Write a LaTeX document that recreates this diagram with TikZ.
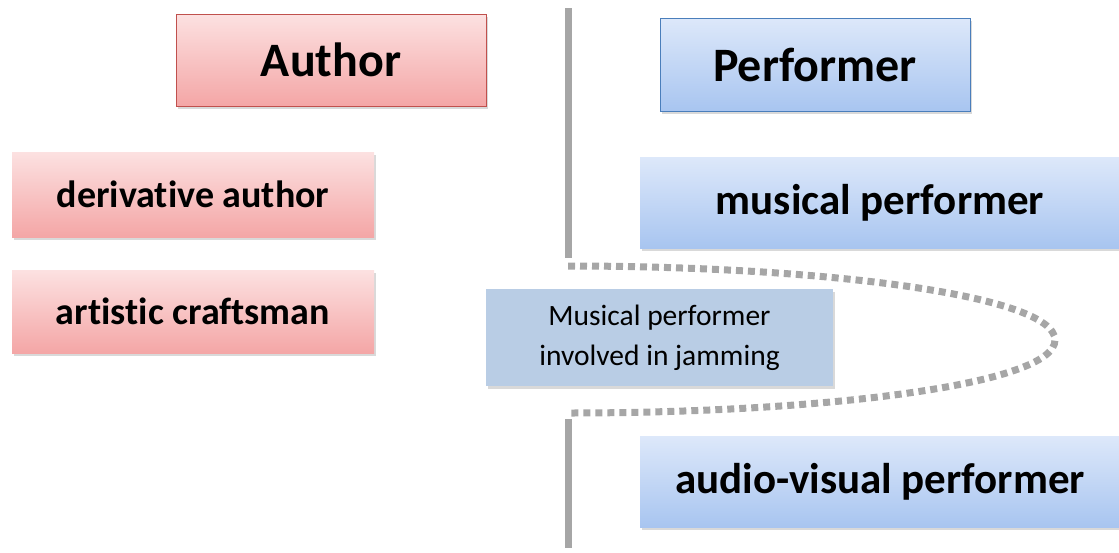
\documentclass[tikz,border=0pt]{standalone}
\usepackage{fontspec}
\setmainfont{Carlito}[Ligatures=NoCommon]
\usetikzlibrary{shadows}

\definecolor{pinklt}{HTML}{FCE1E1}
\definecolor{pinkdk}{HTML}{F4A6A6}
\definecolor{redline}{HTML}{C0504D}
\definecolor{bluelt}{HTML}{DDE8FA}
\definecolor{bluedk}{HTML}{A8C5F0}
\definecolor{blueline}{HTML}{4A7EBB}
\definecolor{jamfill}{HTML}{B9CDE5}
\definecolor{divgray}{HTML}{A6A6A6}

\begin{document}
\begin{tikzpicture}[x=1pt,y=-1pt]
    \tikzstyle{every node}=[inner sep=0pt, align=center]
    \tikzstyle{softshadow}=[drop shadow={opacity=0.3, shadow xshift=1.5pt, shadow yshift=-2.5pt}]
    \tikzstyle{redbox}=[softshadow, top color=pinklt, bottom color=pinkdk]
    \tikzstyle{bluebox}=[softshadow, top color=bluelt, bottom color=bluedk]
    \tikzstyle{headfont}=[font=\fontsize{48}{56}\selectfont\bfseries]
    \useasboundingbox (0,0) rectangle (1119,552);

    % divider
    \coordinate (divtop) at (568,8);
    \coordinate (divmid) at (568,258);
    \coordinate (divlow) at (568,419);
    \coordinate (divbot) at (568,548);
    \draw[divgray, line width=7pt] (divtop) -- (divmid);
    \draw[divgray, line width=7pt] (divlow) -- (divbot);

    % left column
    \node[redbox, draw=redline, line width=0.8pt, minimum width=310, minimum height=92,
      headfont] (author) at (331,60) {Author};
    \node[redbox, minimum width=362, minimum height=85,
      font=\fontsize{38}{44}\selectfont\bfseries] (derauth) at (193,194.5) {derivative author};
    \node[redbox, minimum width=362, minimum height=83,
      font=\fontsize{38}{44}\selectfont\bfseries] (craft) at (193,311.5) {artistic craftsman};

    % right column
    \node[bluebox, draw=blueline, line width=0.8pt, minimum width=310, minimum height=93,
      headfont] (perf) at (815,64.5) {Performer};
    \node[bluebox, minimum width=480, minimum height=91,
      font=\fontsize{43}{50}\selectfont\bfseries] (musperf) at (880,202.5) {musical performer};
    \node[bluebox, minimum width=480, minimum height=91,
      font=\fontsize{43}{50}\selectfont\bfseries] (avperf) at (880,481.5) {audio-visual performer};

    % jamming loop
    \coordinate (loopa) at (568,266);
    \coordinate (looptip) at (1055,340);
    \coordinate (loopb) at (568,413);
    \draw[divgray, line width=7pt, dash pattern=on 7pt off 5pt]
      (loopa) .. controls (820,266) and (1055,295) .. (looptip)
      .. controls (1055,385) and (820,413) .. (loopb);
    \node[softshadow, fill=jamfill, minimum width=347, minimum height=97,
      font=\fontsize{29.5}{40}\selectfont] (jam) at (659.5,337.5)
      {Musical performer\\involved in jamming};
\end{tikzpicture}
\end{document}
